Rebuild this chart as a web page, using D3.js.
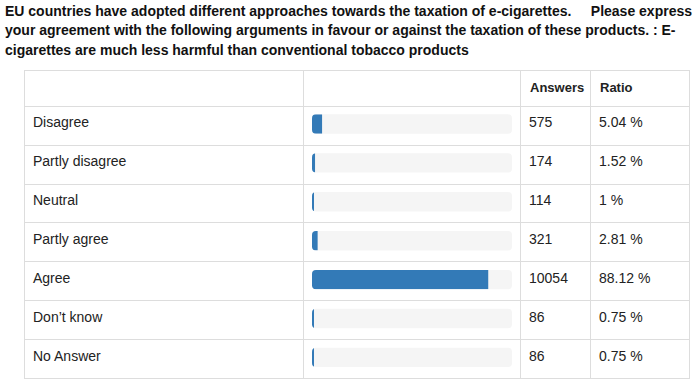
<!DOCTYPE html>
<html>
<head>
<meta charset="utf-8">
<script src="https://cdn.jsdelivr.net/npm/d3@7"></script>
<style>
  html, body { margin: 0; padding: 0; background: #fff; }
  svg { display: block; font-family: "Liberation Sans", Arial, Helvetica, sans-serif; }
</style>
</head>
<body>
<svg id="chart" width="700" height="387"></svg>
<script>
// question text, already broken the way the reference wraps it
var titleLines = [
    'EU countries have adopted different approaches towards the taxation of e-cigarettes.\u00a0\u00a0\u00a0\u00a0 Please express',
    'your agreement with the following arguments in favour or against the taxation of these products. : E-',
    'cigarettes are much less harmful than conventional tobacco products'
];

var categories = ['Disagree', 'Partly disagree', 'Neutral', 'Partly agree', 'Agree', 'Don\u2019t know', 'No Answer'];
var answers = [575, 174, 114, 321, 10054, 86, 86];
var ratios = [5.04, 1.52, 1, 2.81, 88.12, 0.75, 0.75];
var ratioLabels = ['5.04 %', '1.52 %', '1 %', '2.81 %', '88.12 %', '0.75 %', '0.75 %'];
var headers = ['', '', 'Answers', 'Ratio'];

var svg = d3.select('#chart');

// layout
var tableLeft = 24, tableTop = 70, tableRight = 689, tableBottom = 378,
    headerBottom = 105.7,
    colEdges = [tableLeft, 303, 520, 590, tableRight],
    pad = 9,
    borderColor = '#dddddd',
    textColor = '#222';

// title
svg.append('text')
    .attr('x', 5)
    .attr('y', 15.5)
    .style('font-size', '14px')
    .style('font-weight', 'bold')
    .style('fill', '#111')
  .selectAll('tspan')
    .data(titleLines)
  .enter().append('tspan')
    .attr('x', 5)
    .attr('dy', function(d, i) { return i ? 19.5 : 0; })
    .text(function(d) { return d; });

var rowY = d3.scaleBand()
    .domain(categories)
    .range([headerBottom, tableBottom]);

var track = d3.scaleLinear()
    .domain([0, 100])
    .range([0, 200]);

var trackX = 312,
    barTop = 8.6,
    barH = 19.4;

var table = svg.append('g').attr('class', 'table');

// header labels
table.selectAll('text.head')
    .data(headers)
  .enter().append('text')
    .attr('class', 'head')
    .attr('x', function(d, i) { return colEdges[i] + pad + 1; })
    .attr('y', tableTop + 21.7)
    .style('font-size', '13px')
    .style('font-weight', 'bold')
    .style('fill', textColor)
    .text(function(d) { return d; });

var rows = table.selectAll('g.row')
    .data(categories)
  .enter().append('g')
    .attr('class', 'row')
    .attr('transform', function(d) { return 'translate(0,' + rowY(d) + ')'; });

rows.append('text')
    .attr('x', colEdges[0] + pad)
    .attr('y', 21.8)
    .style('font-size', '14px')
    .style('fill', textColor)
    .text(function(d) { return d; });

// progress track and bar
rows.append('rect')
    .attr('x', trackX)
    .attr('y', barTop)
    .attr('width', track(100))
    .attr('height', barH)
    .attr('rx', 4)
    .style('fill', '#f5f5f5');

var clip = svg.append('defs').append('clipPath').attr('id', 'trackclip');
clip.append('rect')
    .attr('x', trackX)
    .attr('y', barTop)
    .attr('width', track(100))
    .attr('height', barH)
    .attr('rx', 4);

rows.append('rect')
    .attr('clip-path', 'url(#trackclip)')
    .attr('x', trackX)
    .attr('y', barTop)
    .attr('width', function(d, i) { return Math.max(2, track(ratios[i])); })
    .attr('height', barH)
    .style('fill', '#337ab7');

rows.append('text')
    .attr('x', colEdges[2] + pad)
    .attr('y', 21.8)
    .style('font-size', '14px')
    .style('fill', textColor)
    .text(function(d, i) { return answers[i]; });

rows.append('text')
    .attr('x', colEdges[3] + pad)
    .attr('y', 21.8)
    .style('font-size', '14px')
    .style('fill', textColor)
    .text(function(d, i) { return ratioLabels[i]; });

// grid lines
var hLines = [tableTop, headerBottom].concat(categories.map(function(d) { return rowY(d) + rowY.bandwidth(); }));
table.selectAll('line.h')
    .data(hLines)
  .enter().append('line')
    .attr('class', 'h')
    .attr('x1', tableLeft).attr('x2', tableRight)
    .attr('y1', function(d) { return Math.round(d) + 0.5; })
    .attr('y2', function(d) { return Math.round(d) + 0.5; })
    .style('stroke', borderColor);

table.selectAll('line.v')
    .data(colEdges)
  .enter().append('line')
    .attr('class', 'v')
    .attr('x1', function(d) { return Math.round(d) + 0.5; })
    .attr('x2', function(d) { return Math.round(d) + 0.5; })
    .attr('y1', tableTop).attr('y2', Math.round(tableBottom) + 1)
    .style('stroke', borderColor);
</script>
</body>
</html>
